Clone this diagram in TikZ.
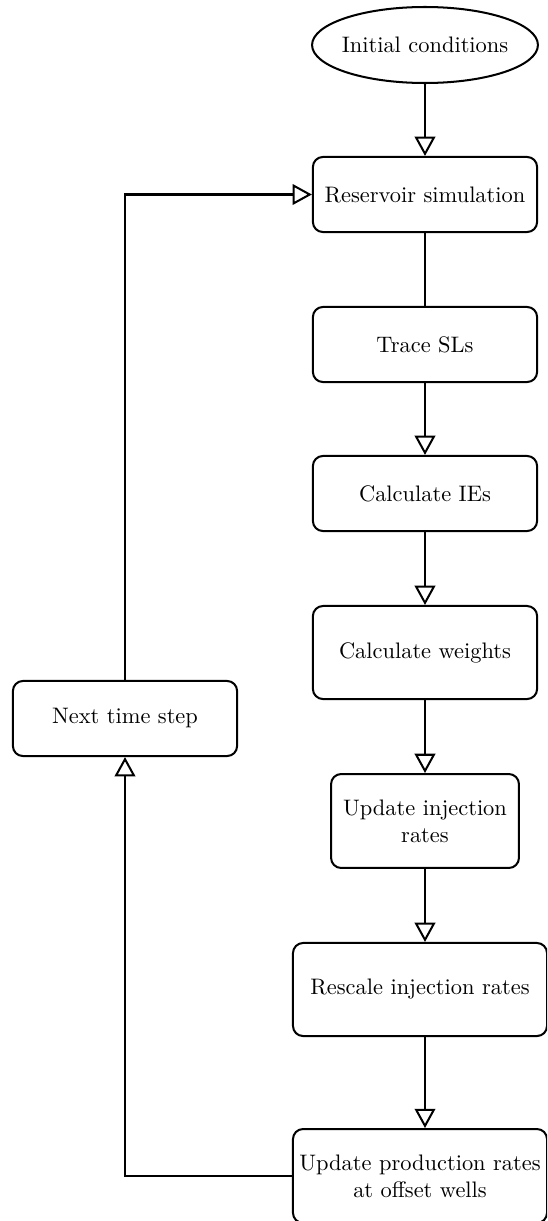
\documentclass[tikz,border=0pt]{standalone}
\usetikzlibrary{arrows.meta,shapes.geometric}
\begin{document}
\begin{tikzpicture}[x=0.446pt,y=-0.446pt,
  line width=0.9pt,
  flowbox/.style={draw, rounded corners=4.5pt, align=center, inner sep=2pt,
    minimum width=100pt, minimum height=33.5pt},
  startnode/.style={draw, ellipse, inner xsep=-1.5pt, inner ysep=0pt,
    minimum width=100.4pt, minimum height=33.9pt},
  flow/.style={-{Triangle[open,length=8.6pt,width=9.2pt]}},
]
\useasboundingbox (0,0) rectangle (547,1221);
\clip (0,0) rectangle (547,1221);

% main column of steps
\node[startnode] (init) at (425,45) {Initial conditions};
\node[flowbox] (res) at (425,194.5) {Reservoir simulation};
\node[flowbox] (trace) at (425,344.5) {Trace SLs};
\node[flowbox] (ies) at (425,493.5) {Calculate IEs};
\node[flowbox, minimum height=41.5pt] (wts) at (425,652.5) {Calculate weights};
\node[flowbox, minimum width=83.8pt, minimum height=41.9pt] (upd) at (425,821)
  {Update injection\\rates};
\node[flowbox, minimum width=113.3pt, minimum height=41.5pt] (resc) at (420,989.5)
  {Rescale injection rates};
\node[flowbox, minimum width=113.3pt, minimum height=41.9pt] (prod) at (420,1176)
  {Update production rates\\at offset wells};

% loop-back step
\node[flowbox] (next) at (125,718.5) {Next time step};

% connectors
\draw[flow] (init.south) -- (res.north);
\draw (res.south) -- (trace.north);
\draw[flow] (trace.south) -- (ies.north);
\draw[flow] (ies.south) -- (wts.north);
\draw[flow] (wts.south) -- (upd.north);
\draw[flow] (upd.south) -- (upd.south |- resc.north);
\draw[flow] (upd.south |- resc.south) -- (upd.south |- prod.north);
\draw[flow] (prod.west) -| (next.south);
\draw[flow] (next.north) |- (res.west);
\end{tikzpicture}
\end{document}
